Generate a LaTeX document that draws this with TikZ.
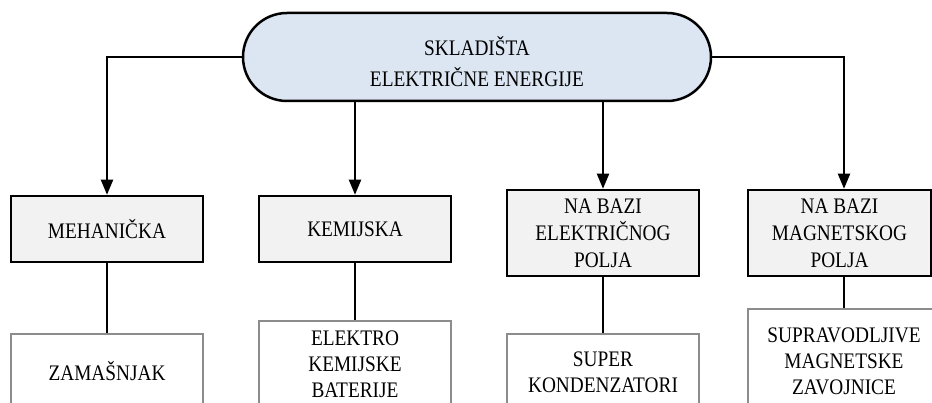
\documentclass[tikz,border=0pt]{standalone}
\usepackage{fontspec}
\setmainfont{Liberation Serif}[FakeStretch=0.87]
\usetikzlibrary{arrows.meta,shapes.misc}
\definecolor{stadfill}{HTML}{DCE6F2}
\definecolor{boxfill}{HTML}{F2F2F2}
\definecolor{leafline}{HTML}{8C8C8C}
\begin{document}
\begin{tikzpicture}[x=1pt,y=-1pt,
  every node/.style={font=\fontsize{22.2}{26}\selectfont, align=center, inner sep=0pt},
  stad/.style={rounded rectangle, draw=black, line width=2.5pt, fill=stadfill,
    minimum width=468pt, minimum height=88pt},
  stadtext/.style={font=\fontsize{22.2}{31}\selectfont},
  cat/.style={rectangle, draw=black, line width=2.5pt, fill=boxfill, minimum width=192pt,
    font=\fontsize{22.2}{27}\selectfont},
  leaf/.style={rectangle, draw=leafline, line width=2pt, fill=white, minimum width=192pt, anchor=north},
  conn/.style={line width=2pt, draw=black},
  arr/.style={conn, -{Triangle[width=12pt,length=15pt]}}]
\path[use as bounding box, clip] (0,0) rectangle (932,403);

\node[stad] (top) at (477,57) {};
\node[stadtext] (toptext) at (477,62) {SKLADIŠTA\\ELEKTRIČNE ENERGIJE};

\node[cat, minimum height=66pt] (m1) at (107,229) {MEHANIČKA};
\node[cat, minimum height=66pt] (m2) at (355,229) {KEMIJSKA};
\node[cat, minimum height=86pt] (m3) at (603,233) {NA BAZI\\ELEKTRIČNOG\\POLJA};
\node[cat, minimum height=86pt, minimum width=183pt] (m4) at (839.5,233) {NA BAZI\\MAGNETSKOG\\POLJA};
\coordinate (c4) at (844,233);

\node[leaf, minimum height=74pt] (l1) at (107,333) {ZAMAŠNJAK};
\node[leaf, minimum height=86pt] (l2) at (355,320) {ELEKTRO\\KEMIJSKE\\BATERIJE};
\node[leaf, minimum height=76pt] (l3) at (603,333) {SUPER\\KONDENZATORI};
\node[leaf, minimum height=104pt] (l4) at (844,308) {SUPRAVODLJIVE\\MAGNETSKE\\ZAVOJNICE};

\draw[arr] (top.west) -| (m1.north);
\draw[arr] (top.east) -| (c4 |- m4.north);
\draw[arr] (m2.north |- top.south) -- (m2.north);
\draw[arr] (m3.north |- top.south) -- (m3.north);

\draw[conn] (m1.south) -- (l1.north);
\draw[conn] (m2.south) -- (l2.north);
\draw[conn] (m3.south) -- (l3.north);
\draw[conn] (c4 |- m4.south) -- (l4.north);
\end{tikzpicture}
\end{document}
